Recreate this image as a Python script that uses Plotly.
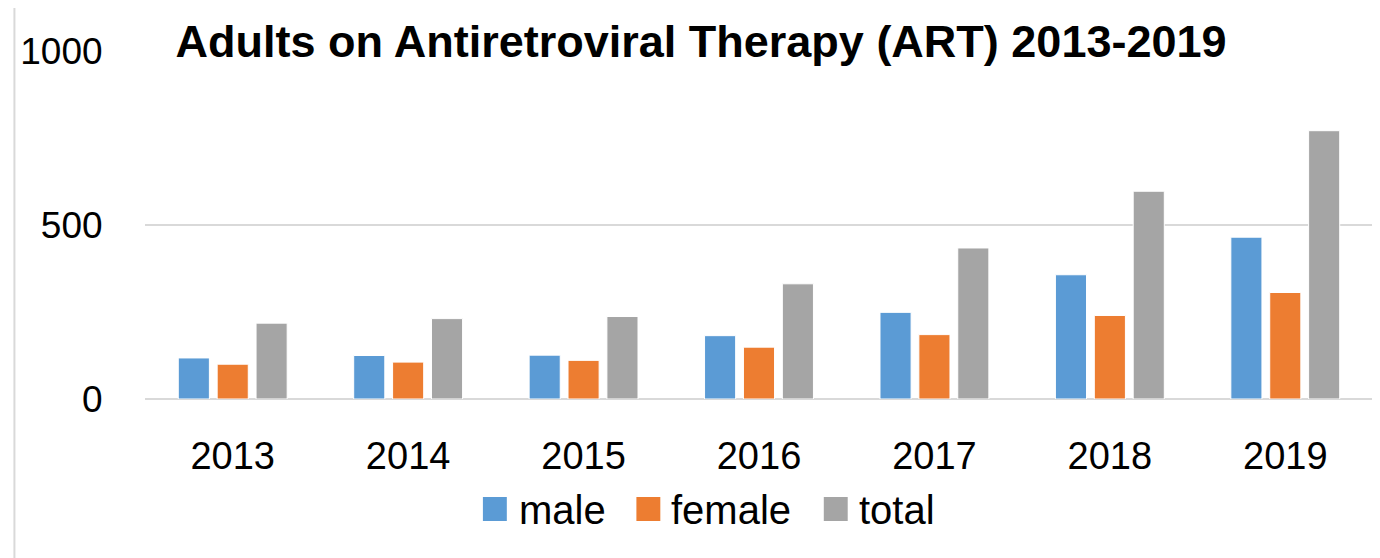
import plotly.graph_objects as go

years = ["2013", "2014", "2015", "2016", "2017", "2018", "2019"]
male = [118, 125, 126, 182, 249, 357, 465]
female = [100, 106, 111, 149, 185, 240, 306]
total = [218, 231, 237, 331, 434, 597, 771]
series_names = ["male", "female", "total"]
series_colors = ["#5b9bd5", "#ed7d31", "#a5a5a5"]

FONT = "Liberation Sans"
W, H = 1380, 558
OFF = 8  # page body offset
L, T, R, B = 133, 43, 15, 167
PW, PH = W - L - R, H - T - B

def px_x(x):  # page x -> paper
    return (x - OFF - L) / PW

def px_y(y):  # page y -> paper
    return 1 - (y - OFF - T) / PH

fig = go.Figure()
for name, vals, col in zip(series_names, [male, female, total], series_colors):
    fig.add_trace(go.Bar(x=years, y=vals, name=name, showlegend=False,
                         marker=dict(color=col, line=dict(color="white", width=1))))

shapes = [dict(type="line", xref="paper", yref="paper",
               x0=px_x(10), x1=px_x(10), y0=px_y(600), y1=px_y(0),
               line=dict(color="#d9d9d9", width=2))]
annotations = []
legend_sq = [480, 634, 822]
legend_tx = [516, 669, 857]
for name, col, sx, tx in zip(series_names, series_colors, legend_sq, legend_tx):
    shapes.append(dict(type="rect", xref="paper", yref="paper",
                       x0=px_x(sx), x1=px_x(sx + 24), y0=px_y(521), y1=px_y(497),
                       fillcolor=col, line=dict(width=0)))
    annotations.append(dict(text=name, xref="paper", yref="paper", x=px_x(tx - 2), y=px_y(510),
                            xanchor="left", yanchor="middle", showarrow=False,
                            font=dict(family=FONT, size=40, color="black")))

fig.update_layout(
    width=W, height=H,
    margin=dict(l=L, r=R, t=T, b=B),
    paper_bgcolor="white", plot_bgcolor="white",
    bargap=0.335, bargroupgap=0.2,
    font=dict(family=FONT, color="black", size=38),
    title=dict(text="<b>Adults on Antiretroviral Therapy (ART) 2013-2019</b>",
               x=(701 - OFF) / W, xanchor="center", y=1 - (41 - OFF) / H, yanchor="middle",
               font=dict(family=FONT, size=45, color="black")),
    showlegend=False,
    xaxis=dict(showgrid=False, showline=False, ticks="outside", ticklen=23, tickcolor="rgba(0,0,0,0)",
               tickfont=dict(size=38)),
    yaxis=dict(range=[0, 1000], tickvals=[0, 500, 1000], showgrid=True, gridcolor="#d9d9d9", gridwidth=1.5,
               zeroline=True, zerolinecolor="#d9d9d9", zerolinewidth=2,
               ticks="outside", ticklen=34, tickcolor="rgba(0,0,0,0)", tickfont=dict(size=37)),
    shapes=shapes,
    annotations=annotations,
)
fig.write_html("out.html")
